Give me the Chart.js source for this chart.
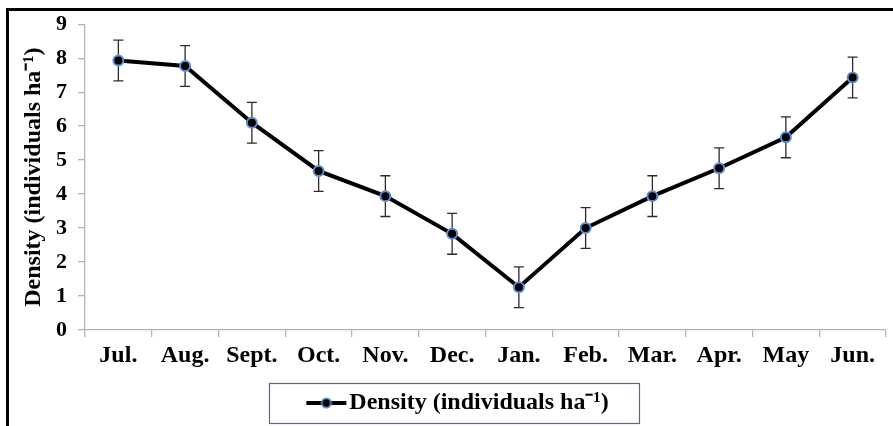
<!DOCTYPE html>
<html>
<head>
<meta charset="utf-8">
<script src="https://cdn.jsdelivr.net/npm/chart.js@4.4.1/dist/chart.umd.min.js"></script>
<style>
  html, body { margin: 0; padding: 0; background: #ffffff; }
  #wrap { width: 893px; height: 426px; position: relative; }
</style>
</head>
<body>
<div id="wrap"><canvas id="chart"></canvas></div>
<script>
// Monthly density with standard error (individuals per hectare)
const months = ['Jul.', 'Aug.', 'Sept.', 'Oct.', 'Nov.', 'Dec.', 'Jan.', 'Feb.', 'Mar.', 'Apr.', 'May', 'Jun.'];
const density = [7.93, 7.77, 6.10, 4.68, 3.94, 2.83, 1.26, 3.00, 3.94, 4.76, 5.67, 7.43];
const densityError = [0.60, 0.60, 0.60, 0.60, 0.60, 0.60, 0.60, 0.60, 0.60, 0.60, 0.60, 0.60];
const yTicks = [0, 1, 2, 3, 4, 5, 6, 7, 8, 9];
const seriesLabel = 'Density (individuals ha\u207B\u00B9)';
const yTitle = 'Density (individuals ha\u207B\u00B9)';

const SERIF = "'Liberation Serif', 'Times New Roman', serif";
const AXIS_GREY = '#b4b4b4';
const MARKER_BLUE = '#5b8fd4';

// Legend swatch: short black line with the marker in the middle
function makeSwatch() {
  const c = document.createElement('canvas');
  c.width = 42; c.height = 14;
  const g = c.getContext('2d');
  g.strokeStyle = '#000'; g.lineWidth = 4;
  g.beginPath(); g.moveTo(1, 7); g.lineTo(41, 7); g.stroke();
  g.beginPath(); g.arc(21, 7, 4.6, 0, Math.PI * 2);
  g.fillStyle = '#000'; g.fill();
  g.strokeStyle = MARKER_BLUE; g.lineWidth = 1.8; g.stroke();
  return c;
}
const swatch = makeSwatch();

// Error bars, drawn under the line
const errorBars = {
  id: 'errorBars',
  beforeDatasetsDraw(chart) {
    const { ctx, scales: { x, y } } = chart;
    ctx.save();
    ctx.strokeStyle = '#2b2b2b';
    ctx.lineWidth = 1.3;
    density.forEach((v, i) => {
      const px = x.getPixelForValue(i);
      const top = y.getPixelForValue(v + densityError[i]);
      const bot = y.getPixelForValue(v - densityError[i]);
      ctx.beginPath();
      ctx.moveTo(px, top); ctx.lineTo(px, bot);
      ctx.moveTo(px - 5, top); ctx.lineTo(px + 5, top);
      ctx.moveTo(px - 5, bot); ctx.lineTo(px + 5, bot);
      ctx.stroke();
    });
    ctx.restore();
  }
};

// Outer frame, rotated y-axis title and the box around the legend
const decorations = {
  id: 'decorations',
  afterDraw(chart) {
    const { ctx } = chart;
    ctx.save();
    ctx.strokeStyle = '#000';
    ctx.lineWidth = 3;
    ctx.beginPath();
    ctx.moveTo(7.5, 440); ctx.lineTo(7.5, 9.5); ctx.lineTo(900, 9.5);
    ctx.stroke();

    ctx.translate(40, chart.chartArea.top + (chart.chartArea.bottom - chart.chartArea.top) / 2);
    ctx.rotate(-Math.PI / 2);
    ctx.font = "bold 24px " + SERIF;
    ctx.fillStyle = '#000';
    ctx.textAlign = 'center';
    ctx.textBaseline = 'alphabetic';
    ctx.fillText(yTitle, 0, 0);
    ctx.restore();

    const hb = chart.legend.legendHitBoxes && chart.legend.legendHitBoxes[0];
    if (hb) {
      const cy = hb.top + hb.height / 2;
      ctx.save();
      ctx.strokeStyle = '#4a6aa5';
      ctx.lineWidth = 1.2;
      ctx.strokeRect(Math.round(hb.left - 46) + 0.5, Math.round(cy - 20) + 0.5, Math.round(hb.width + 77), 40);
      ctx.restore();
    }
  }
};

new Chart(document.getElementById('chart'), {
  type: 'line',
  data: {
    labels: months,
    datasets: [{
      label: seriesLabel,
      data: density,
      borderColor: '#000000',
      borderWidth: 4,
      tension: 0,
      pointRadius: 5,
      pointBackgroundColor: '#000000',
      pointBorderColor: MARKER_BLUE,
      pointBorderWidth: 2,
      pointStyle: 'circle',
      clip: false
    }]
  },
  options: {
    responsive: true,
    maintainAspectRatio: false,
    animation: false,
    devicePixelRatio: 1,
    layout: { padding: { top: 24, left: 31, right: 0, bottom: 1 } },
    plugins: {
      tooltip: { enabled: false },
      legend: {
        position: 'bottom',
        labels: {
          usePointStyle: true,
          pointStyleWidth: 22,
          padding: 8,
          color: '#000',
          font: { family: SERIF, size: 24, weight: 'bold' },
          generateLabels(chart) {
            return [{
              text: seriesLabel,
              pointStyle: swatch,
              fillStyle: '#000',
              strokeStyle: '#000',
              lineWidth: 0,
              hidden: false,
              datasetIndex: 0
            }];
          }
        }
      }
    },
    scales: {
      x: {
        type: 'category',
        offset: true,
        border: { display: true, color: AXIS_GREY, width: 1.3 },
        grid: { display: true, offset: true, drawOnChartArea: false, drawTicks: true, tickLength: 7, color: AXIS_GREY, lineWidth: 1.3 },
        ticks: { color: '#000', padding: 4, font: { family: SERIF, size: 24, weight: 'bold' }, maxRotation: 0, autoSkip: false },
        afterFit(s) { s.height = s.chart.height - 1 - s.chart.legend.height - 330; }
      },
      y: {
        min: 0,
        max: 9,
        afterBuildTicks(s) { s.ticks = yTicks.map(v => ({ value: v })); },
        border: { display: true, color: AXIS_GREY, width: 1.3 },
        grid: { display: true, drawOnChartArea: false, drawTicks: true, tickLength: 7, color: AXIS_GREY, lineWidth: 1.3 },
        ticks: { color: '#000', padding: 11, font: { family: SERIF, size: 22, weight: 'bold' } },
        afterFit(s) { s.width = 54; }
      }
    }
  },
  plugins: [errorBars, decorations]
});
</script>
</body>
</html>
